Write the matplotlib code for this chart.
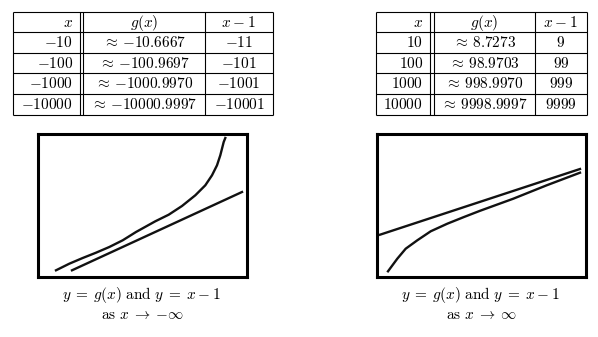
import matplotlib
matplotlib.use("Agg")
import matplotlib.pyplot as plt

plt.rcParams['mathtext.fontset'] = 'cm'
plt.rcParams['font.family'] = ['DejaVu Serif']

# ---------------- data ----------------
headers = [r'x', r'g(x)', r'x\:{-}\:1']
neg_x = [-10, -100, -1000, -10000]
neg_g = [-10.6667, -100.9697, -1000.9970, -10000.9997]
neg_xm1 = [-11, -101, -1001, -10001]
pos_x = [10, 100, 1000, 10000]
pos_g = [8.7273, 98.9703, 998.9970, 9998.9997]
pos_xm1 = [9, 99, 999, 9999]

# curves (screen units: x from left, y from bottom)
neg_curve_x = [18.5, 31.8, 45.2, 58.5, 71.8, 85.2, 98.5, 117.8, 131.2, 144.5,
               157.8, 167.8, 174.5, 179.5, 182.8, 186.2, 187.8]
neg_curve_y = [6.2, 12.8, 18.5, 23.8, 29.5, 36.2, 44.5, 55.2, 61.8, 70.5,
               81.2, 91.2, 101.2, 111.2, 121.2, 134.5, 138.5]
neg_line_x = [34.5, 204.5]
neg_line_y = [6.2, 84.5]

pos_curve_x = [11.5, 20.8, 29.2, 40.8, 54.2, 70.8, 87.5, 103.5, 136.8, 170.2, 203.5]
pos_curve_y = [5.2, 17.8, 27.8, 36.2, 45.2, 52.8, 59.5, 65.7, 77.8, 91.2, 103.8]
pos_line_x = [3.5, 203.5]
pos_line_y = [41.8, 107.5]

caption_line1 = r'$y\;{=}\:g(x)\ \mathrm{and}\ y\;{=}\:x\:{-}\:1$'
caption_neg = r'$\mathrm{as}\ x\;{\rightarrow}\:{-}\infty$'
caption_pos = r'$\mathrm{as}\ x\;{\rightarrow}\:\infty$'

# ---------------- figure ----------------
W, H = 598, 337
fig = plt.figure(figsize=(W / 100, H / 100), dpi=100)
bg = fig.add_axes([0, 0, 1, 1])
bg.set_xlim(0, W)
bg.set_ylim(H, 0)
bg.axis('off')

FS = 11
row_y = [12, 32.3, 52.7, 73.3, 94, 114.7]


def fmt_num(v):
    return '$' + str(v).replace('-', '{-}') + '$'


def fmt_g(v):
    return r'$\approx\,' + f'{v:.4f}'.replace('-', '{-}') + '$'


def draw_table(left, right, dbl1, dbl2, single, xs, gs, xm1s):
    lw = 0.8
    for y in row_y:
        bg.plot([left, right], [y, y], color='black', lw=lw, solid_capstyle='butt')
    for x in [left, dbl1, dbl2, single, right]:
        bg.plot([x, x], [row_y[0], row_y[-1]], color='black', lw=lw, solid_capstyle='butt')
    xr = dbl1 - 7
    gc = (dbl2 + single) / 2
    mc = (single + right) / 2
    for i in range(5):
        base = row_y[i + 1] - 5.5
        if i == 0:
            t0, t1, t2 = ['$' + h + '$' for h in headers]
        else:
            t0 = fmt_num(xs[i - 1])
            t1 = fmt_g(gs[i - 1])
            t2 = fmt_num(xm1s[i - 1])
        bg.text(xr, base, t0, ha='right', va='baseline', fontsize=FS)
        bg.text(gc, base, t1, ha='center', va='baseline', fontsize=FS)
        bg.text(mc, base, t2, ha='center', va='baseline', fontsize=FS)


draw_table(13, 273, 80, 83.3, 205, neg_x, neg_g, neg_xm1)
draw_table(376, 587, 430, 434, 535, pos_x, pos_g, pos_xm1)


def screen(left, right, top, bottom, cx, cy, lx, ly, cap2):
    ax = fig.add_axes([left / W, 1 - bottom / H, (right - left) / W, (bottom - top) / H])
    ax.set_xlim(0, right - left)
    ax.set_ylim(0, bottom - top)
    ax.set_xticks([])
    ax.set_yticks([])
    for s in ax.spines.values():
        s.set_linewidth(2.2)
        s.set_color('black')
    ax.plot(cx, cy, color='#111111', lw=1.7)
    ax.plot(lx, ly, color='#111111', lw=1.7)
    c = (left + right) / 2
    bg.text(c, 299, caption_line1, ha='center', va='baseline', fontsize=FS)
    bg.text(c, 319, cap2, ha='center', va='baseline', fontsize=FS)


screen(37.5, 246.5, 134, 276.5, neg_curve_x, neg_curve_y, neg_line_x, neg_line_y, caption_neg)
screen(376.5, 585.5, 134, 276.5, pos_curve_x, pos_curve_y, pos_line_x, pos_line_y, caption_pos)

fig.savefig('out.png', dpi=100)
